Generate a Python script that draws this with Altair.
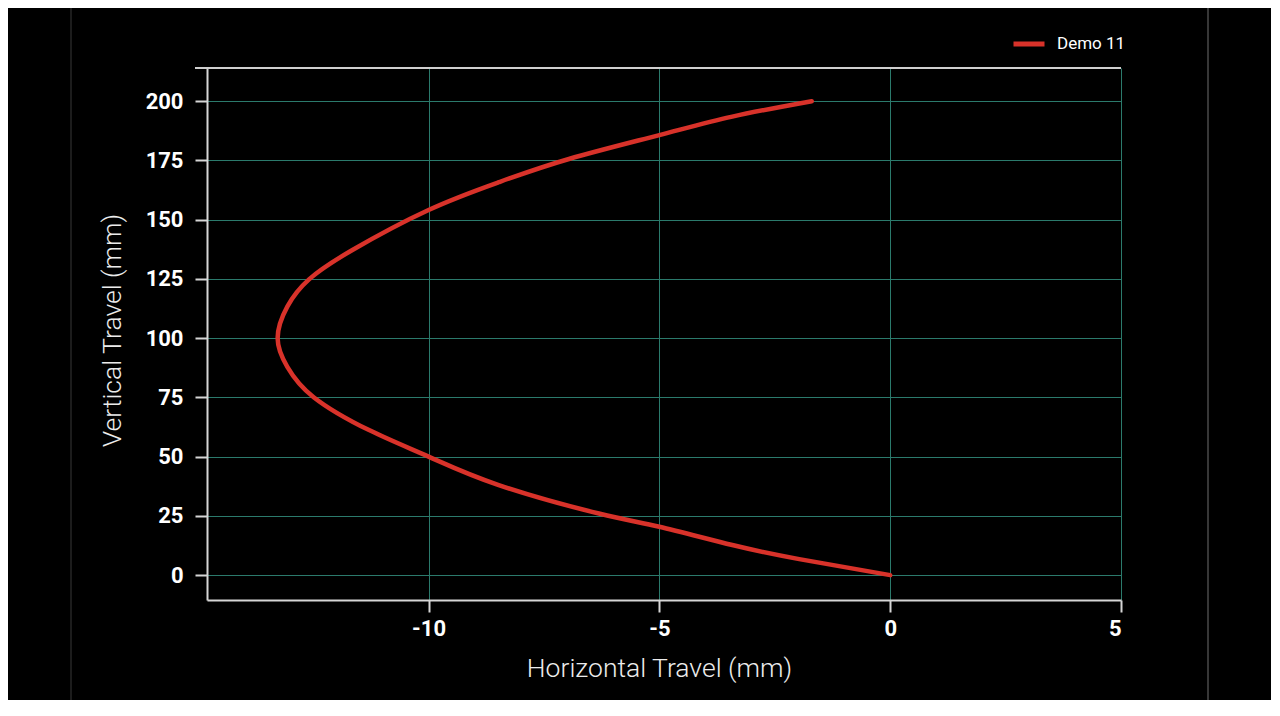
import altair as alt
import pandas as pd

# ---- data ----
series_name = "Demo 11"
vertical_mm = [0, 6.75, 12.7, 20.4, 26, 38, 50, 61.2, 75.1, 87.9, 100,
               113.3, 124.8, 137.2, 154.1, 165.8, 175.6, 185.7, 193.5, 200]
horizontal_mm = [0, -1.97, -3.42, -5.0, -6.31, -8.48, -10.0, -11.29, -12.49, -13.06, -13.27,
                 -13.06, -12.59, -11.65, -10.0, -8.48, -6.96, -5.0, -3.42, -1.7]
x_ticks = [-10, -5, 0, 5]
y_ticks = [0, 25, 50, 75, 100, 125, 150, 175, 200]

df = pd.DataFrame({
    "h": horizontal_mm,
    "v": vertical_mm,
    "idx": list(range(len(vertical_mm))),
    "series": [series_name] * len(vertical_mm),
})

W, H = 914, 532
FONT = "Roboto"
RED = "#d8322a"
GRID = "#2b7a6c"
AXIS = "#d6d6d6"

one = pd.DataFrame({"k": [0]})

line = alt.Chart(df).mark_line(
    strokeWidth=4.5, interpolate="natural", strokeCap="round", strokeJoin="round"
).encode(
    x=alt.X("h:Q",
            scale=alt.Scale(domain=[-14.8, 5], nice=False, zero=False),
            axis=alt.Axis(values=x_ticks, title="Horizontal Travel (mm)",
                          labelExpr="datum.value + ''",
                          labelFont=FONT, labelFontSize=22, labelFontWeight="bold",
                          labelColor="#ffffff", labelPadding=6,
                          tickSize=12, tickWidth=2, tickColor=AXIS,
                          domainColor=AXIS, domainWidth=2,
                          grid=True, gridColor=GRID, gridWidth=1,
                          titleFont=FONT, titleFontSize=26.5, titleFontWeight=300,
                          titleColor="#ececec", titleX=452, titleY=76,
                          titleBaseline="alphabetic")),
    y=alt.Y("v:Q",
            scale=alt.Scale(domain=[-10.5, 214], nice=False, zero=False),
            axis=alt.Axis(values=y_ticks, title="Vertical Travel (mm)",
                          labelFont=FONT, labelFontSize=22, labelFontWeight="bold",
                          labelColor="#ffffff", labelPadding=12,
                          tickSize=12, tickWidth=2, tickColor=AXIS,
                          domainColor=AXIS, domainWidth=2,
                          grid=True, gridColor=GRID, gridWidth=1,
                          titleFont=FONT, titleFontSize=26.5, titleFontWeight=300,
                          titleColor="#ececec", titleX=-87, titleY=262,
                          titleBaseline="alphabetic")),
    order="idx:Q",
    color=alt.Color("series:N",
                    scale=alt.Scale(domain=[series_name], range=[RED]),
                    legend=alt.Legend(title=None, orient="none", legendX=804, legendY=-42,
                                      symbolType="stroke", symbolStrokeWidth=5,
                                      symbolSize=961, labelFont=FONT, labelFontSize=17,
                                      labelColor="#ffffff", labelOffset=10, padding=0)),
)

top_border = alt.Chart(one).mark_rule(color="#cfcfcf", strokeWidth=2).encode(
    x=alt.value(-12), x2=alt.value(W), y=alt.value(0)
)
frame_left = alt.Chart(one).mark_rule(color="#262626", strokeWidth=1.5).encode(
    x=alt.value(-136), y=alt.value(-60), y2=alt.value(H + 100)
)
frame_right = alt.Chart(one).mark_rule(color="#4a4a4a", strokeWidth=1.5).encode(
    x=alt.value(1001), y=alt.value(-60), y2=alt.value(H + 100)
)

chart = alt.layer(frame_left, frame_right, top_border, line).properties(
    width=W, height=H,
    autosize=alt.AutoSizeParams(type="none"),
    padding={"left": 199, "top": 60, "right": 150, "bottom": 100},
    background="#000000",
).configure_view(stroke=None, fill="#000000")

chart.save("out.html", embed_options={"renderer": "svg", "actions": False})
